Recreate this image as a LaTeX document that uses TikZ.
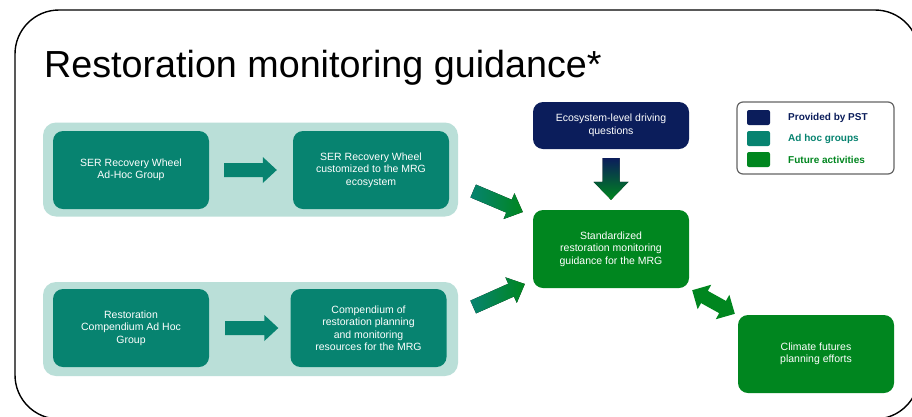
\documentclass[tikz,border=0pt]{standalone}
\usepackage{fontspec}
\setmainfont{Liberation Sans}
\usetikzlibrary{calc}
\definecolor{pnavy}{RGB}{11,29,91}
\definecolor{pteal}{RGB}{7,131,112}
\definecolor{pgreen}{RGB}{0,134,31}
\definecolor{plight}{RGB}{186,223,216}
\definecolor{pgray}{RGB}{100,100,100}
% block arrow: #1 style, #2 tail, #3 tip, #4 shaft half width, #5 head half width, #6 head length
\newcommand\barrow[6]{%
  \coordinate (bah) at ($(#3)!#6!(#2)$);
  \fill[#1] ($(#2)!#4!90:(#3)$) -- ($(bah)!#4!-90:(#2)$) -- ($(bah)!#5!-90:(#2)$) -- (#3)
    -- ($(bah)!#5!90:(#2)$) -- ($(bah)!#4!90:(#2)$) -- ($(#2)!#4!-90:(#3)$) -- cycle;}
% double block arrow
\newcommand\dbarrow[6]{%
  \coordinate (dba) at ($(#2)!#6!(#3)$);
  \coordinate (dbb) at ($(#3)!#6!(#2)$);
  \fill[#1] (#2) -- ($(dba)!#5!90:(#3)$) -- ($(dba)!#4!90:(#3)$) -- ($(dbb)!#4!-90:(#2)$)
    -- ($(dbb)!#5!-90:(#2)$) -- (#3) -- ($(dbb)!#5!90:(#2)$) -- ($(dbb)!#4!90:(#2)$)
    -- ($(dba)!#4!-90:(#3)$) -- ($(dba)!#5!-90:(#3)$) -- cycle;}
\begin{document}
\begin{tikzpicture}[x=1pt,y=-1pt,
  boxbase/.style={rectangle, rounded corners=10pt, inner sep=0pt, align=center,
    text=white, font=\fontsize{10.5}{12.5}\selectfont, minimum width=156pt, minimum height=78pt},
  tealbox/.style={boxbase, fill=pteal},
  greenbox/.style={boxbase, fill=pgreen},
  navybox/.style={boxbase, fill=pnavy, minimum height=47pt},
  groupbg/.style={rectangle, rounded corners=13pt, fill=plight, inner sep=0pt,
    minimum width=415pt, minimum height=94pt},
  swatch/.style={rectangle, rounded corners=2pt, inner sep=0pt, minimum width=23pt, minimum height=15pt},
  legtext/.style={anchor=west, inner sep=0pt, font=\fontsize{10}{12}\bfseries\selectfont}
]
\clip (0,0) rectangle (912,416);
\fill[white] (0,0) rectangle (912,416);
\draw[line width=1.4pt, rounded corners=44pt] (15,10) rectangle (919,419);

\node[anchor=base west, inner sep=0pt, font=\fontsize{37.7}{40}\selectfont] (title) at (44,77) {Restoration monitoring guidance*};

% groups
\node[groupbg] (g1) at (250.5,169.5) {};
\node[groupbg] (g2) at (250.5,329) {};
\node[tealbox] (b1) at (131,170) {SER Recovery Wheel\\Ad-Hoc Group};
\node[tealbox] (b2) at (371,170) {SER Recovery Wheel\\customized to the MRG\\ecosystem};
\node[tealbox] (b3) at (131,328) {Restoration\\Compendium Ad Hoc\\Group};
\node[tealbox] (b4) at (368.5,328) {Compendium of\\restoration planning\\and monitoring\\resources for the MRG};

\node[navybox] (eco) at (611,125.5) {Ecosystem-level driving\\questions};
\node[greenbox] (std) at (611,249) {Standardized\\restoration monitoring\\guidance for the MRG};
\node[greenbox] (clim) at (816,354) {Climate futures\\planning efforts};

% legend
\node[draw=pgray, line width=1.2pt, rounded corners=6pt, minimum width=157pt, minimum height=72pt, inner sep=0pt] (leg) at (815.5,138) {};
\node[swatch, fill=pnavy] (s1) at (758.5,117.5) {};
\node[swatch, fill=pteal] (s2) at (758.5,138.5) {};
\node[swatch, fill=pgreen] (s3) at (758.5,159.5) {};
\node[legtext, text=pnavy] (l1) at (788,118) {Provided by PST};
\node[legtext, text=pteal] (l2) at (788,139) {Ad hoc groups};
\node[legtext, text=pgreen] (l3) at (788,159.5) {Future activities};

% connectors
\coordinate (h1a) at ($(b1.east)+(15,0)$);
\coordinate (h1b) at ($(b2.west)+(-16,0)$);
\barrow{pteal}{h1a}{h1b}{7pt}{13pt}{14pt}
\coordinate (h2a) at ($(b3.east)+(16,0)$);
\coordinate (h2b) at ($(b4.west)+(-12,0)$);
\barrow{pteal}{h2a}{h2b}{7pt}{13pt}{14pt}

\coordinate (d1a) at ($(g1.east)+(15,21.5)$);
\coordinate (d1b) at ($(std.west)+(-10,-37)$);
\barrow{left color=pteal, right color=pgreen}{d1a}{d1b}{7pt}{14pt}{15pt}
\coordinate (d2a) at ($(g2.east)+(15,-22)$);
\coordinate (d2b) at ($(std.west)+(-8,35)$);
\barrow{left color=pteal, right color=pgreen}{d2a}{d2b}{7pt}{14pt}{15pt}

\coordinate (vda) at ($(eco.south)+(0,9)$);
\coordinate (vdb) at ($(std.north)+(0,-10)$);
\barrow{top color=pnavy, bottom color=pgreen}{vda}{vdb}{8.5pt}{17.5pt}{18pt}

\coordinate (ca) at ($(std.south east)+(3,2)$);
\coordinate (cb) at ($(clim.north west)+(-3,-1)$);
\dbarrow{pgreen}{ca}{cb}{7pt}{14pt}{14pt}
\end{tikzpicture}
\end{document}
